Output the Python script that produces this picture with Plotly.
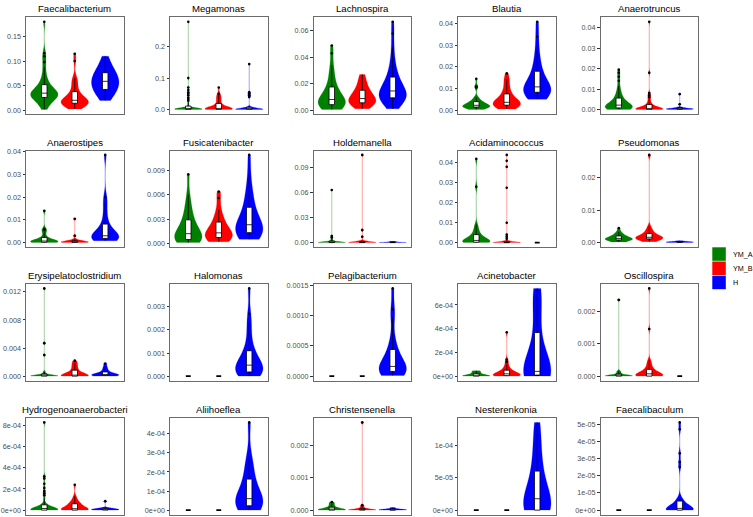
import plotly.graph_objects as go

# ---------------- data ----------------
GROUPS = ["YM_A", "YM_B", "H"]
GROUP_COLORS = ["#008000", "#FF0000", "#0000FF"]
GROUP_EDGES = ["rgba(0,128,0,0.3)", "rgba(255,0,0,0.3)", "rgba(0,0,255,0.3)"]

GENERA = ["Faecalibacterium", "Megamonas", "Lachnospira", "Blautia", "Anaerotruncus",
          "Anaerostipes", "Fusicatenibacter", "Holdemanella", "Acidaminococcus", "Pseudomonas",
          "Erysipelatoclostridium", "Halomonas", "Pelagibacterium", "Acinetobacter", "Oscillospira",
          "Hydrogenoanaerobacteri", "Aliihoeflea", "Christensenella", "Nesterenkonia", "Faecalibaculum"]

fae_A = [0.002, 0.006, 0.010, 0.014, 0.017, 0.020, 0.022, 0.024, 0.025, 0.026, 0.027, 0.028, 0.029, 0.030,
         0.031, 0.032, 0.033, 0.033, 0.034, 0.035, 0.036, 0.037, 0.038, 0.040, 0.042, 0.044, 0.045, 0.047,
         0.050, 0.053, 0.057, 0.062, 0.068, 0.075, 0.088, 0.098, 0.110, 0.116, 0.180]
fae_B = [0.003, 0.006, 0.008, 0.010, 0.011, 0.012, 0.013, 0.014, 0.015, 0.015, 0.016, 0.016, 0.017, 0.018,
         0.019, 0.020, 0.021, 0.022, 0.023, 0.025, 0.027, 0.029, 0.032, 0.036, 0.040, 0.045, 0.052, 0.058,
         0.062, 0.066, 0.100, 0.115]
fae_H = [0.020, 0.026, 0.031, 0.035, 0.038, 0.041, 0.044, 0.047, 0.050, 0.053, 0.056, 0.058, 0.060, 0.063,
         0.066, 0.069, 0.072, 0.075, 0.078, 0.082, 0.087, 0.093, 0.100, 0.110]

meg_A = [0, 0, 0, 0, 0, 0, 0, 0, 0, 0, 0, 0, 0, 0, 0, 0, 0.0002, 0.0004, 0.0006, 0.0008, 0.001, 0.0012,
         0.0014, 0.0016, 0.0018, 0.002, 0.0023, 0.0026, 0.003, 0.0033, 0.0036, 0.004, 0.0045, 0.005, 0.0055,
         0.006, 0.015, 0.022, 0.028, 0.033, 0.038, 0.045, 0.05, 0.055, 0.062, 0.07, 0.1, 0.28]
meg_B = [0, 0, 0, 0, 0, 0, 0, 0, 0, 0, 0, 0, 0.0003, 0.0006, 0.001, 0.0015, 0.002, 0.0025, 0.003, 0.0035,
         0.004, 0.005, 0.006, 0.007, 0.008, 0.009, 0.01, 0.018, 0.022, 0.026, 0.03, 0.034, 0.038, 0.042,
         0.046, 0.05, 0.07]
meg_H = [0, 0, 0, 0, 0, 0, 0, 0, 0, 0, 0.0005, 0.001, 0.0015, 0.002, 0.003, 0.004, 0.005, 0.006, 0.008,
         0.04, 0.045, 0.05, 0.055, 0.145]

lac_A = [0.0005, 0.001, 0.0015, 0.002, 0.0025, 0.003, 0.0035, 0.004, 0.0045, 0.005, 0.0055, 0.006, 0.0065,
         0.007, 0.0075, 0.008, 0.009, 0.01, 0.011, 0.012, 0.013, 0.014, 0.016, 0.018, 0.02, 0.023, 0.026,
         0.03, 0.034, 0.043, 0.049]
lac_B = [0.001, 0.002, 0.003, 0.004, 0.0045, 0.005, 0.0055, 0.006, 0.0065, 0.007, 0.0075, 0.008, 0.0085,
         0.009, 0.01, 0.011, 0.012, 0.013, 0.014, 0.015, 0.016, 0.018, 0.02, 0.022, 0.025, 0.027]
lac_H = [0.001, 0.003, 0.005, 0.006, 0.007, 0.008, 0.0085, 0.009, 0.0095, 0.01, 0.0105, 0.011, 0.0115,
         0.012, 0.013, 0.014, 0.015, 0.016, 0.017, 0.018, 0.019, 0.02, 0.022, 0.024, 0.026, 0.028, 0.031,
         0.035, 0.04, 0.048, 0.058, 0.067]

bla_A = [0.0003, 0.0006, 0.0008, 0.001, 0.0011, 0.0012, 0.0013, 0.0014, 0.0015, 0.0016, 0.0017, 0.0018,
         0.002, 0.0021, 0.0022, 0.0024, 0.0026, 0.0028, 0.003, 0.0032, 0.0035, 0.0038, 0.0042, 0.0047,
         0.0053, 0.006, 0.0105, 0.011, 0.0145]
bla_B = [0.0005, 0.001, 0.0013, 0.0016, 0.0018, 0.002, 0.0022, 0.0024, 0.0026, 0.0028, 0.003, 0.0032,
         0.0034, 0.0036, 0.004, 0.0044, 0.0048, 0.0053, 0.006, 0.0068, 0.0077, 0.0088, 0.0098, 0.012,
         0.0135, 0.0145, 0.017]
bla_H = [0.005, 0.0058, 0.0065, 0.007, 0.0075, 0.008, 0.0085, 0.009, 0.0093, 0.0096, 0.01, 0.0105, 0.011,
         0.012, 0.013, 0.014, 0.0155, 0.017, 0.019, 0.021, 0.024, 0.028, 0.034, 0.041]

ana_A = [0, 0, 0, 0, 0.0001, 0.0002, 0.0003, 0.0004, 0.0005, 0.0006, 0.0007, 0.0008, 0.0009, 0.001,
         0.0011, 0.0012, 0.0013, 0.0014, 0.0015, 0.0016, 0.0018, 0.002, 0.0022, 0.0024, 0.0026, 0.0028,
         0.003, 0.0033, 0.0036, 0.004, 0.0044, 0.0048, 0.0053, 0.0058, 0.0064, 0.007, 0.0078, 0.0088,
         0.01, 0.0115, 0.014, 0.016, 0.018, 0.0195]
ana_B = [0, 0, 0, 0, 0, 0, 0, 0, 0, 0, 0, 0, 0, 0, 0.0001, 0.0002, 0.0003, 0.0004, 0.0005, 0.0006, 0.0008,
         0.001, 0.0012, 0.0015, 0.0018, 0.002, 0.0025, 0.003, 0.004, 0.005, 0.006, 0.007, 0.008, 0.018, 0.043]
ana_H = [0, 0, 0, 0.0001, 0.0001, 0.0002, 0.0002, 0.0003, 0.0003, 0.0004, 0.0005, 0.0006, 0.0008, 0.001,
         0.0025, 0.0075]

ast_A = [0, 0, 0, 0, 0.0001, 0.0002, 0.0003, 0.0004, 0.0005, 0.0006, 0.0007, 0.0008, 0.001, 0.0012,
         0.0015, 0.002, 0.003, 0.0045, 0.0055, 0.006, 0.014]
ast_B = [0, 0, 0, 0, 0.0001, 0.0002, 0.0003, 0.0004, 0.0005, 0.0006, 0.0007, 0.0008, 0.001, 0.0015,
         0.003, 0.0105]
ast_H = [0.0008, 0.001, 0.0012, 0.0014, 0.0016, 0.0018, 0.002, 0.0022, 0.0024, 0.0026, 0.0028, 0.003,
         0.0035, 0.004, 0.005, 0.006, 0.007, 0.0085, 0.011, 0.014, 0.0175, 0.02, 0.0385]

fus_A = [0.0001, 0.0002, 0.0002, 0.0003, 0.0003, 0.0004, 0.0005, 0.0006, 0.0007, 0.0008, 0.0009, 0.001,
         0.0012, 0.0014, 0.0016, 0.0019, 0.0022, 0.0025, 0.0028, 0.0032, 0.0037, 0.0043, 0.005, 0.006,
         0.0085]
fus_B = [0.0002, 0.0003, 0.0004, 0.0005, 0.0006, 0.0007, 0.0008, 0.0009, 0.001, 0.0011, 0.0012, 0.0013,
         0.0015, 0.0017, 0.0019, 0.0022, 0.0024, 0.0027, 0.0031, 0.0036, 0.0042, 0.0056, 0.0064]
fus_H = [0.0005, 0.0008, 0.001, 0.0011, 0.0012, 0.0013, 0.0014, 0.0015, 0.0017, 0.0019, 0.0021, 0.0023,
         0.0025, 0.0028, 0.0032, 0.0036, 0.004, 0.0046, 0.0053, 0.006, 0.0068, 0.0085, 0.0109]

hol_A = [0, 0, 0, 0, 0, 0, 0, 0, 0.0001, 0.0002, 0.0003, 0.0005, 0.0008, 0.001, 0.0015, 0.002, 0.004,
         0.006, 0.008, 0.063]
hol_B = [0, 0, 0, 0, 0, 0, 0, 0.0001, 0.0002, 0.0003, 0.0005, 0.0008, 0.001, 0.002, 0.007, 0.015, 0.105]
hol_H = [0, 0, 0, 0, 0, 0.0001, 0.0002, 0.0003, 0.0005, 0.0008, 0.001, 0.0015]

aci_A = [0, 0, 0, 0, 0, 0.0001, 0.0002, 0.0003, 0.0004, 0.0005, 0.0006, 0.0008, 0.001, 0.0012, 0.0015,
         0.002, 0.0025, 0.003, 0.0035, 0.004, 0.005, 0.006, 0.0075, 0.009, 0.028, 0.042]
aci_B = [0, 0, 0, 0, 0, 0, 0, 0, 0, 0, 0, 0, 0, 0, 0, 0, 0, 0, 0, 0, 0, 0, 0, 0, 0, 0, 0, 0, 0, 0,
         0.0001, 0.0002, 0.0003, 0.0004, 0.0005, 0.0007, 0.001, 0.002, 0.003, 0.004, 0.01, 0.0275, 0.038,
         0.041, 0.044]
aci_H = [0, 0, 0, 0, 0, 0]

pse_A = [0.0002, 0.0004, 0.0006, 0.0007, 0.0008, 0.0009, 0.001, 0.0011, 0.0012, 0.0013, 0.0014, 0.0015,
         0.0017, 0.0019, 0.0021, 0.0024, 0.0028, 0.0033, 0.0045]
pse_B = [0.0003, 0.0005, 0.0008, 0.001, 0.0011, 0.0012, 0.0013, 0.0014, 0.0015, 0.0016, 0.0017, 0.0019,
         0.0021, 0.0023, 0.0026, 0.003, 0.0035, 0.004, 0.005, 0.027]
pse_H = [0, 0, 0.00005, 0.0001, 0.00015, 0.0002, 0.00025, 0.0003, 0.00035, 0.0006]

ery_A = [0, 0, 0, 0, 0, 0, 0.00001, 0.00002, 0.00003, 0.00005, 0.0001, 0.00015, 0.0002, 0.0003, 0.0006,
         0.003, 0.0047, 0.0125]
ery_B = [0, 0, 0, 0, 0, 0, 0, 0.00001, 0.00003, 0.00005, 0.0001, 0.00015, 0.0002, 0.0003, 0.0005, 0.0008,
         0.001, 0.0013, 0.0016, 0.0019, 0.0022]
ery_H = [0, 0.00002, 0.00005, 0.00008, 0.0001, 0.00012, 0.00015, 0.0002, 0.00025, 0.0003, 0.0004, 0.0005,
         0.0007, 0.001, 0.0013, 0.0018]

hal_A = [0, 0, 0, 0, 0]
hal_B = [0, 0, 0, 0, 0]
hal_H = [0, 0.00002, 0.00005, 0.0001, 0.00013, 0.00016, 0.0002, 0.00025, 0.0003, 0.00035, 0.0004, 0.00045,
         0.0005, 0.0006, 0.0007, 0.0008, 0.0009, 0.001, 0.0012, 0.0015, 0.0019, 0.0023, 0.0027, 0.0038]

pel_A = [0, 0, 0, 0, 0]
pel_B = [0, 0, 0, 0, 0]
pel_H = [0.00001, 0.00003, 0.00005, 0.00006, 0.00007, 0.00008, 0.00009, 0.0001, 0.00012, 0.00014, 0.00016,
         0.0002, 0.00025, 0.0003, 0.00036, 0.00042, 0.0005, 0.00065, 0.00097, 0.0011, 0.00145]

acn_A = [0, 0, 0, 0, 0, 0, 0.000002, 0.000005, 0.00001, 0.00002, 0.00003, 0.00004, 0.000045]
acn_B = [0, 0, 0, 0, 0, 0, 0.000002, 0.000004, 0.000006, 0.000008, 0.00001, 0.000012, 0.000014, 0.000016,
         0.000018, 0.00002, 0.000023, 0.000026, 0.00003, 0.000035, 0.00004, 0.000045, 0.00005, 0.00006,
         0.00007, 0.00008, 0.0001, 0.00012, 0.00014, 0.00037]
acn_H = [0, 0, 0, 0.000003, 0.000006, 0.00001, 0.000015, 0.00002, 0.000025, 0.00003, 0.00004, 0.00008,
         0.00013, 0.00018, 0.00025, 0.00034, 0.00045, 0.00058, 0.00066, 0.00071, 0.00074]

osc_A = [0, 0, 0, 0, 0, 0.000005, 0.00001, 0.00002, 0.00003, 0.00005, 0.0001, 0.00015, 0.00235]
osc_B = [0, 0, 0, 0, 0, 0, 0, 0, 0, 0, 0, 0, 0.00001, 0.00002, 0.00003, 0.00004, 0.00005, 0.00006,
         0.00007, 0.00008, 0.00009, 0.0001, 0.00011, 0.00012, 0.00014, 0.00016, 0.00018, 0.0002, 0.00023,
         0.00026, 0.0003, 0.00035, 0.0004, 0.00045, 0.0005, 0.00145, 0.0027]
osc_H = [0, 0, 0, 0, 0]

hyd_A = [0, 0, 0, 0, 0, 0, 0, 0, 0, 0, 0, 0, 0, 0, 0.000002, 0.000004, 0.000006, 0.000008, 0.00001,
         0.000012, 0.000014, 0.000016, 0.000018, 0.00002, 0.000023, 0.000026, 0.00003, 0.000034, 0.000038,
         0.000042, 0.000046, 0.00005, 0.00007, 0.00011, 0.00014, 0.00016, 0.00018, 0.00021, 0.00025,
         0.0003, 0.00032, 0.00083]
hyd_B = [0, 0, 0, 0, 0, 0, 0, 0, 0.000002, 0.000004, 0.000006, 0.000008, 0.00001, 0.000012, 0.000015,
         0.00002, 0.000025, 0.00003, 0.000045, 0.000055, 0.00006, 0.00006, 0.000065, 0.00007, 0.00009,
         0.00011, 0.00013, 0.00024]
hyd_H = [0, 0, 0, 0.000002, 0.000005, 0.000008, 0.00001, 0.000012, 0.000015, 0.00002, 0.000085]

ali_A = [0, 0, 0, 0, 0]
ali_B = [0, 0, 0, 0, 0]
ali_H = [0, 0.000005, 0.00001, 0.000015, 0.00002, 0.00003, 0.00004, 0.00005, 0.000055, 0.00006, 0.00007,
         0.00009, 0.00011, 0.00014, 0.00017, 0.0002, 0.00024, 0.00028, 0.00046]

chr_A = [0, 0, 0, 0, 0, 0.000005, 0.00001, 0.00002, 0.00003, 0.00004, 0.00006, 0.0001, 0.00015, 0.0002,
         0.00025]
chr_B = [0, 0, 0, 0, 0, 0, 0.000005, 0.00001, 0.00002, 0.00003, 0.00005, 0.0001, 0.00015, 0.0027]
chr_H = [0, 0, 0, 0.000005, 0.00001, 0.00002, 0.00003, 0.00004, 0.00008]

nes_A = [0, 0, 0, 0, 0]
nes_B = [0, 0, 0, 0, 0]
nes_H = [0, 0, 0, 0, 0, 0.000002, 0.000005, 0.00001, 0.000015, 0.00002, 0.00003, 0.00004, 0.00005,
         0.00006, 0.00008, 0.000095, 0.00012, 0.000135]

fcl_A = [0, 0, 0, 0, 0]
fcl_B = [0, 0, 0, 0, 0]
fcl_H = [0, 0, 0, 0, 0, 0, 0, 0, 0, 0, 0, 0, 0, 0.0000005, 0.000001, 0.0000015, 0.000002, 0.0000025,
         0.000003, 0.0000035, 0.000004, 0.000005, 0.000006, 0.000007, 0.000025, 0.000028, 0.000033,
         0.000047, 0.000051]

# y tick values / labels per panel
TICKVALS = [
    [0, 0.05, 0.10, 0.15], [0, 0.1, 0.2], [0, 0.02, 0.04, 0.06], [0, 0.01, 0.02, 0.03, 0.04],
    [0, 0.01, 0.02, 0.03, 0.04],
    [0, 0.01, 0.02, 0.03, 0.04], [0, 0.003, 0.006, 0.009], [0, 0.03, 0.06, 0.09],
    [0, 0.01, 0.02, 0.03, 0.04], [0, 0.01, 0.02],
    [0, 0.004, 0.008, 0.012], [0, 0.001, 0.002, 0.003], [0, 0.0005, 0.0010, 0.0015],
    [0, 2e-4, 4e-4, 6e-4], [0, 0.001, 0.002],
    [0, 2e-4, 4e-4, 6e-4, 8e-4], [0, 1e-4, 2e-4, 3e-4, 4e-4], [0, 0.001, 0.002], [0, 5e-5, 1e-4],
    [0, 1e-5, 2e-5, 3e-5, 4e-5, 5e-5],
]
TICKTEXT = [
    ["0.00", "0.05", "0.10", "0.15"], ["0.0", "0.1", "0.2"], ["0.00", "0.02", "0.04", "0.06"],
    ["0.00", "0.01", "0.02", "0.03", "0.04"], ["0.00", "0.01", "0.02", "0.03", "0.04"],
    ["0.00", "0.01", "0.02", "0.03", "0.04"], ["0.000", "0.003", "0.006", "0.009"],
    ["0.00", "0.03", "0.06", "0.09"], ["0.00", "0.01", "0.02", "0.03", "0.04"], ["0.00", "0.01", "0.02"],
    ["0.000", "0.004", "0.008", "0.012"], ["0.000", "0.001", "0.002", "0.003"],
    ["0.0000", "0.0005", "0.0010", "0.0015"], ["0e+00", "2e-04", "4e-04", "6e-04"],
    ["0.000", "0.001", "0.002"],
    ["0e+00", "2e-04", "4e-04", "6e-04", "8e-04"], ["0e+00", "1e-04", "2e-04", "3e-04", "4e-04"],
    ["0.000", "0.001", "0.002"], ["0e+00", "5e-05", "1e-04"],
    ["0e+00", "1e-05", "2e-05", "3e-05", "4e-05", "5e-05"],
]

PANEL_DATA = [
    [fae_A, fae_B, fae_H], [meg_A, meg_B, meg_H], [lac_A, lac_B, lac_H], [bla_A, bla_B, bla_H],
    [ana_A, ana_B, ana_H], [ast_A, ast_B, ast_H], [fus_A, fus_B, fus_H], [hol_A, hol_B, hol_H],
    [aci_A, aci_B, aci_H], [pse_A, pse_B, pse_H], [ery_A, ery_B, ery_H], [hal_A, hal_B, hal_H],
    [pel_A, pel_B, pel_H], [acn_A, acn_B, acn_H], [osc_A, osc_B, osc_H], [hyd_A, hyd_B, hyd_H],
    [ali_A, ali_B, ali_H], [chr_A, chr_B, chr_H], [nes_A, nes_B, nes_H], [fcl_A, fcl_B, fcl_H],
]

# ---------------- layout geometry (pixels) ----------------
W, H = 753, 517
COL_LEFT = [26, 170, 313.5, 458, 600.5]
PANEL_W = 97.5
ROW_TOP = [17.3, 150.5, 284, 418]
PANEL_H = 96.5
FONT = "Liberation Sans, Arial, sans-serif"
TICK_GREY = "#4D4D4D"

fig = go.Figure()
layout = dict(
    template="none",
    width=W, height=H, margin=dict(l=0, r=0, t=0, b=0, pad=0),
    paper_bgcolor="white", plot_bgcolor="white", showlegend=False,
    font=dict(family=FONT, color=TICK_GREY),
    violinmode="overlay", boxmode="overlay",
)
annotations = []
shapes = []

for k, (name, groups) in enumerate(zip(GENERA, PANEL_DATA)):
    r, c = divmod(k, 5)
    sfx = "" if k == 0 else str(k + 1)
    x0 = COL_LEFT[c] / W
    x1 = (COL_LEFT[c] + PANEL_W) / W
    y1 = 1 - ROW_TOP[r] / H
    y0 = 1 - (ROW_TOP[r] + PANEL_H) / H

    allv = [v for g in groups for v in g]
    lo, hi = min(allv), max(allv)
    pad = (hi - lo) * 0.05

    for gi, (vals, col, edge) in enumerate(zip(groups, GROUP_COLORS, GROUP_EDGES)):
        pos = gi + 1
        if max(vals) == min(vals):
            fig.add_trace(go.Box(
                y=vals, x0=pos, width=0.16, fillcolor="white",
                line=dict(color="black", width=1.6), boxpoints=False,
                xaxis="x" + sfx, yaxis="y" + sfx, hoverinfo="skip"))
        else:
            fig.add_trace(go.Violin(
                y=vals, x0=pos, name=GROUPS[gi], width=0.9, scalemode="width",
                spanmode="hard", fillcolor=col, line=dict(color=edge, width=0.7),
                opacity=1,
                box=dict(visible=True, width=0.2, fillcolor="white",
                         line=dict(color="black", width=0.8)),
                meanline=dict(visible=False),
                points="outliers", pointpos=0, jitter=0,
                marker=dict(color="black", size=2.6, line=dict(width=0)),
                xaxis="x" + sfx, yaxis="y" + sfx, hoverinfo="skip"))

    layout["xaxis" + sfx] = dict(
        domain=[x0, x1], range=[0.4, 3.6], showticklabels=False, ticks="",
        showgrid=False, zeroline=False, showline=True, mirror=True,
        linecolor="#6b6b6b", linewidth=1, anchor="y" + sfx)
    layout["yaxis" + sfx] = dict(
        domain=[y0, y1], range=[lo - pad, hi + pad], tickvals=TICKVALS[k], ticktext=TICKTEXT[k],
        ticks="outside", ticklen=2.5, tickwidth=0.8, tickcolor="#333333",
        tickfont=dict(size=7.2, color=TICK_GREY, family=FONT),
        showgrid=False, zeroline=False, showline=True, mirror=True,
        linecolor="#6b6b6b", linewidth=1, anchor="x" + sfx)

    annotations.append(dict(
        text=name, x=(x0 + x1) / 2, y=y1, xref="paper", yref="paper",
        xanchor="center", yanchor="bottom", yshift=1, showarrow=False,
        font=dict(size=9.6, color="black", family=FONT)))

# legend
LEG_X = 712.3
LEG_Y = [247.3, 261.5, 275.7]
LEG_S = 13.5
for g, col, ly in zip(GROUPS, GROUP_COLORS, LEG_Y):
    shapes.append(dict(type="rect", xref="paper", yref="paper",
                       x0=LEG_X / W, x1=(LEG_X + LEG_S) / W,
                       y0=1 - (ly + LEG_S) / H, y1=1 - ly / H,
                       fillcolor=col, line=dict(width=0)))
    annotations.append(dict(text=g, x=(LEG_X + LEG_S + 5) / W, y=1 - (ly + LEG_S / 2) / H,
                            xref="paper", yref="paper", xanchor="left", yanchor="middle",
                            showarrow=False, font=dict(size=7.2, color="black", family=FONT)))

layout["annotations"] = annotations
layout["shapes"] = shapes
fig.update_layout(**layout)
fig.write_html("out.html", config={"displayModeBar": False},
               post_script="document.body.style.margin='0px';document.body.style.overflow='hidden';")
